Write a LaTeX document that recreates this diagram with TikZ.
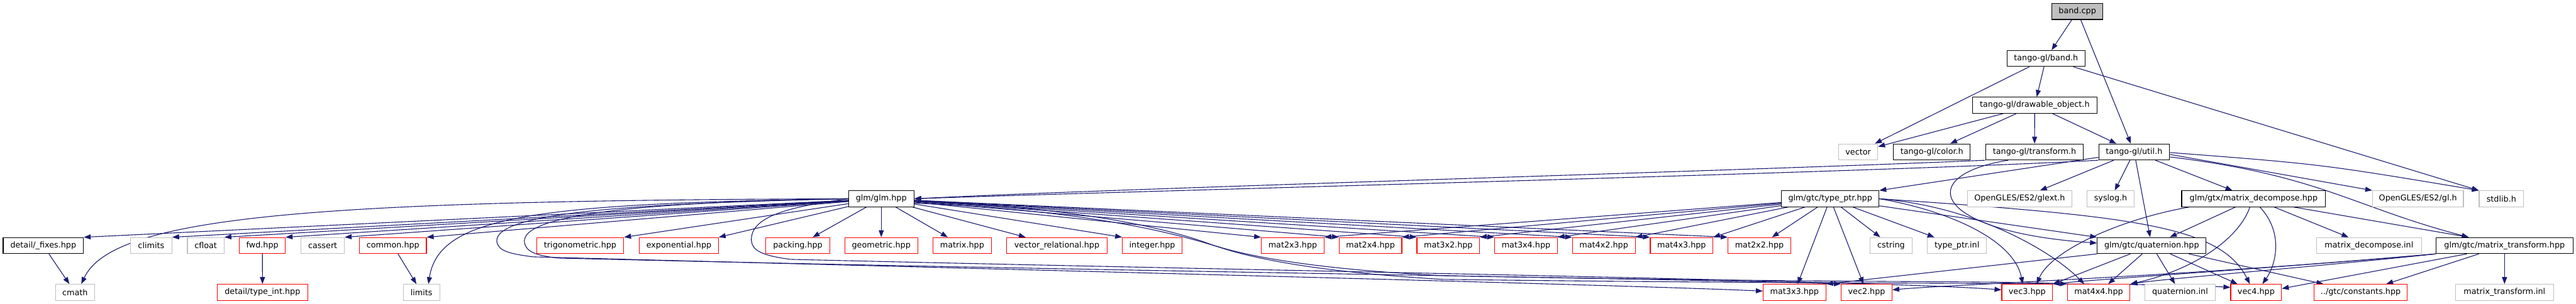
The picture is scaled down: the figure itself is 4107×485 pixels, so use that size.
\documentclass[tikz,border=0pt]{standalone}
\usepackage{fontspec}
\setmainfont{DejaVu Sans}
\usetikzlibrary{arrows.meta}
\definecolor{edgec}{HTML}{191970}
\definecolor{grayb}{HTML}{BFBFBF}
\definecolor{redb}{HTML}{FF0000}
\pgfdeclarelayer{bg}
\pgfsetlayers{bg,main}
\begin{document}
\begin{tikzpicture}[x=1pt,y=-1pt,
  box/.style={draw, rectangle, minimum height=25.5pt, inner sep=0pt, line width=1.1pt, fill=white, font=\fontsize{12.8}{15}\selectfont},
  nb/.style={box, draw=black},
  ng/.style={box, draw=grayb},
  nr/.style={box, draw=redb},
  e/.style={draw=edgec, line width=1.1pt, -{Triangle[length=11pt,width=8pt]}}]
\useasboundingbox (0,0) rectangle (4107,485);
% row 0-3
\node[nb, fill=grayb, minimum width=81] (band) at (3312,18.3) {band.cpp};
\node[nb, minimum width=124] (bandh) at (3262,93.3) {tango-gl/band.h};
\node[nb, minimum width=199] (draw) at (3244,168) {tango-gl/drawable\_object.h};
\node[ng, minimum width=62.5] (vector) at (2962.5,242.5) {vector};
\node[nb, minimum width=122] (color) at (3080,242.5) {tango-gl/color.h};
\node[nb, minimum width=156] (transform) at (3243.7,242.5) {tango-gl/transform.h};
\node[nb, minimum width=113] (util) at (3402.5,242.5) {tango-gl/util.h};
% row 4
\node[nb, minimum width=104] (glm) at (1405,317.3) {glm/glm.hpp};
\node[nb, minimum width=155.5] (typeptr) at (2918,317.3) {glm/gtc/type\_ptr.hpp};
\node[ng, minimum width=166.5] (glext) at (3220,317.3) {OpenGLES/ES2/glext.h};
\node[ng, minimum width=76] (syslog) at (3365,317.3) {syslog.h};
\node[nb, minimum width=229.5] (decomp) at (3593,317.3) {glm/gtx/matrix\_decompose.hpp};
\node[ng, minimum width=145] (gl) at (3855,317.3) {OpenGLES/ES2/gl.h};
\node[ng, minimum width=71] (stdlib) at (3988,317.3) {stdlib.h};
% row 5
\node[nb, minimum width=128] (fixes) at (69,392) {detail/\_fixes.hpp};
\node[ng, minimum width=66] (climits) at (241,392) {climits};
\node[ng, minimum width=58.5] (cfloat) at (328,392) {cfloat};
\node[nr, minimum width=73] (fwd) at (418.3,392) {fwd.hpp};
\node[ng, minimum width=69] (cassert) at (514.5,392) {cassert};
\node[nr, minimum width=106.7] (common) at (626.5,392) {common.hpp};
\node[nr, minimum width=139] (trig) at (925,392) {trigonometric.hpp};
\node[nr, minimum width=126] (expo) at (1082.4,392) {exponential.hpp};
\node[nr, minimum width=102] (packing) at (1272,392) {packing.hpp};
\node[nr, minimum width=116] (geometric) at (1405,392) {geometric.hpp};
\node[nr, minimum width=93] (matrix) at (1534,392) {matrix.hpp};
\node[nr, minimum width=160] (vecrel) at (1685,392) {vector\_relational.hpp};
\node[nr, minimum width=95] (integer) at (1837,392) {integer.hpp};
\node[nr, minimum width=100] (m23) at (2061,392) {mat2x3.hpp};
\node[nr, minimum width=100] (m24) at (2185,392) {mat2x4.hpp};
\node[nr, minimum width=100] (m32) at (2309,392) {mat3x2.hpp};
\node[nr, minimum width=100] (m34) at (2433,392) {mat3x4.hpp};
\node[nr, minimum width=100] (m42) at (2557,392) {mat4x2.hpp};
\node[nr, minimum width=100] (m43) at (2681,392) {mat4x3.hpp};
\node[nr, minimum width=100] (m22) at (2805,392) {mat2x2.hpp};
\node[ng, minimum width=67] (cstring) at (3015,392) {cstring};
\node[ng, minimum width=94.6] (tpinl) at (3120,392) {type\_ptr.inl};
\node[nb, minimum width=173.5] (quat) at (3430.5,392) {glm/gtc/quaternion.hpp};
\node[ng, minimum width=167] (decinl) at (3777,392) {matrix\_decompose.inl};
\node[nb, minimum width=218] (mtrans) at (3993,392) {glm/gtc/matrix\_transform.hpp};
% row 6
\node[ng, minimum width=62.5] (cmath) at (119.6,466.7) {cmath};
\node[nr, minimum width=144] (typeint) at (418.5,466.7) {detail/type\_int.hpp};
\node[ng, minimum width=58] (limits) at (672,466.7) {limits};
\node[nr, minimum width=100] (m33) at (2861,466.7) {mat3x3.hpp};
\node[nr, minimum width=81] (vec2) at (2976,466.7) {vec2.hpp};
\node[nr, minimum width=81] (vec3) at (3232,466.7) {vec3.hpp};
\node[nr, minimum width=100] (m44) at (3346,466.7) {mat4x4.hpp};
\node[ng, minimum width=112] (quatinl) at (3475.7,466.7) {quaternion.inl};
\node[nr, minimum width=81] (vec4) at (3597,466.7) {vec4.hpp};
\node[nr, minimum width=149] (constants) at (3763.6,466.7) {../gtc/constants.hpp};
\node[ng, minimum width=156] (mtinl) at (3993,466.7) {matrix\_transform.inl};

\begin{pgfonlayer}{bg}
% top
\draw[e] (band) -- (bandh);
\draw[e] (band) -- (util);
\draw[e] (bandh) -- (vector);
\draw[e] (bandh) -- (draw);
\draw[e] (bandh) -- (stdlib.north west);
\draw[e] (draw) -- (vector);
\draw[e] (draw) -- (color);
\draw[e] (draw) -- (transform);
\draw[e] (draw) -- (util);
% row 3 -> 4
\draw[e] (transform.south west) .. controls (2800,272) and (1800,300) .. (glm.east);
\draw[e] (util.south west) .. controls (3000,275) and (1800,305) .. (glm.east);
\draw[e] ([xshift=-42pt]transform.south) .. controls (3050,280) and (3080,370) .. ([yshift=4pt]quat.west);
\draw[e] (util) -- (typeptr.north east);
\draw[e] (util) -- (glext);
\draw[e] (util) -- (syslog);
\draw[e] (util) -- (decomp);
\draw[e] (util) -- (quat);
\draw[e] ([yshift=-4pt]util.east) -- (gl.north west);
\draw[e] ([yshift=-1pt]util.east) .. controls (3700,262) .. (stdlib.north west);
\draw[e] ([yshift=-8pt]util.east) .. controls (3700,280) and (3750,330) .. ([xshift=-57pt]mtrans.north);
% glm
\draw[e] (glm) -- (fixes.north east);
\draw[e] (glm.west) .. controls (500,320) and (180,345) .. ([xshift=10pt]cmath.north);
\draw[e] (glm) -- (climits.north east);
\draw[e] (glm) -- (cfloat.north east);
\draw[e] (glm) -- (fwd.north east);
\draw[e] (glm) -- (cassert.north east);
\draw[e] (glm) -- (common.north east);
\draw[e] (glm.west) .. controls (850,325) and (700,345) .. ([xshift=11pt]limits.north);
\draw[e] (glm) -- (trig.north east);
\draw[e] (glm) -- (expo.north east);
\draw[e] (glm) -- (packing);
\draw[e] (glm) -- (geometric);
\draw[e] (glm) -- (matrix);
\draw[e] (glm) -- (vecrel);
\draw[e] (glm) -- (integer.north west);
\draw[e] (glm) -- (m23.north west);
\draw[e] (glm) -- (m24.north west);
\draw[e] (glm) -- (m32.north west);
\draw[e] (glm) -- (m34.north west);
\draw[e] (glm) -- (m42.north west);
\draw[e] (glm) -- (m43.north west);
\draw[e] (glm) -- (m22.north west);
\draw[e] (glm.west) .. controls (1000,325) and (790,340) .. (792,385) .. controls (794,400) and (810,405) .. (850,410) .. controls (1600,430) and (2600,455) .. ([yshift=2pt]m33.west);
\draw[e] (glm.west) .. controls (1050,322) and (835,340) .. (836,385) .. controls (837,402) and (855,408) .. (890,412) .. controls (1700,432) and (2700,445) .. (vec2.north west);
\draw[e] (glm.west) .. controls (1260,330) and (1195,345) .. (1198,385) .. controls (1200,400) and (1215,408) .. (1260,414) .. controls (2000,432) and (3000,448) .. ([yshift=4pt]vec3.west);
\draw[e] ([yshift=-4pt]glm.east) .. controls (1700,330) and (1850,360) .. (1930,390) .. controls (1990,410) and (2100,430) .. (2300,440) .. controls (2900,452) and (3200,448) .. (m44.north west);
\draw[e] ([yshift=-7pt]glm.east) .. controls (1720,335) and (1860,368) .. (1945,395) .. controls (2000,413) and (2100,434) .. (2300,446) .. controls (3000,455) and (3400,450) .. ([yshift=8pt]vec4.west);
\draw[e] (fixes) -- (cmath);
\draw[e] (fwd) -- (typeint);
\draw[e] (common) -- (limits);
% type_ptr
\draw[e] (typeptr) -- (m23.north east);
\draw[e] (typeptr) -- (m24.north east);
\draw[e] (typeptr) -- (m32.north east);
\draw[e] (typeptr) -- (m34.north east);
\draw[e] (typeptr) -- (m42.north east);
\draw[e] (typeptr) -- (m43.north east);
\draw[e] (typeptr) -- (m22);
\draw[e] (typeptr) -- (m33);
\draw[e] (typeptr) -- (vec2);
\draw[e] (typeptr) -- (cstring);
\draw[e] (typeptr) -- (tpinl);
\draw[e] (typeptr) -- (quat.north west);
\draw[e] (typeptr.east) .. controls (3100,335) and (3210,380) .. ([xshift=-7pt]vec3.north);
\draw[e] (typeptr.east) .. controls (3150,330) and (3270,400) .. ([xshift=-23pt]m44.north);
\draw[e] (typeptr.east) .. controls (3400,345) and (3540,360) .. ([xshift=-10pt]vec4.north);
% quaternion
\draw[e] (quat.south west) -- (m33.north east);
\draw[e] (quat) -- (vec3.north east);
\draw[e] (quat) -- (m44);
\draw[e] (quat) -- (quatinl);
\draw[e] (quat) -- (vec4);
\draw[e] (quat) -- (constants);
% matrix_decompose
\draw[e] (decomp) -- (quat);
\draw[e] ([xshift=-103pt]decomp.south) .. controls (3380,350) and (3270,400) .. ([xshift=15pt]vec3.north);
\draw[e] ([xshift=-6pt]decomp.south) .. controls (3570,380) and (3500,430) .. (m44.north east);
\draw[e] ([xshift=10pt]decomp.south) .. controls (3640,370) and (3630,420) .. ([xshift=10pt]vec4.north);
\draw[e] (decomp) -- (decinl);
\draw[e] ([xshift=64pt]decomp.south) -- ([xshift=-57pt]mtrans.north);
% matrix_transform
\draw[e] (mtrans) -- (mtinl);
\draw[e] (mtrans) -- (constants);
\draw[e] ([xshift=-60pt]mtrans.south) -- ([yshift=6pt]vec4.east);
\draw[e] (mtrans.south west) .. controls (3500,440) and (3100,455) .. ([yshift=4pt]vec2.east);
\draw[e] (mtrans.south west) .. controls (3600,430) and (3350,445) .. (vec3.north east);
\draw[e] (mtrans.south west) .. controls (3700,425) and (3450,445) .. (m44.north east);
\end{pgfonlayer}
\end{tikzpicture}
\end{document}
